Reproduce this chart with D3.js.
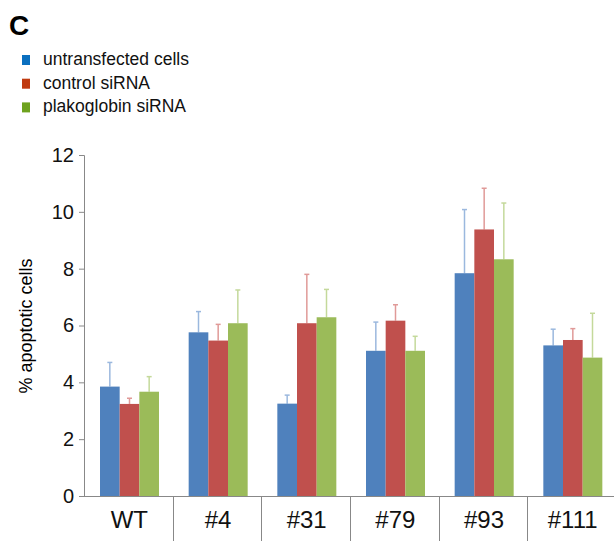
<!DOCTYPE html>
<html lang="en">
<head>
  <meta charset="UTF-8">
  <title>Apoptotic cells</title>
  <style>
  body {
    margin: 0;
    background: #fff;
    font-family: "Liberation Sans", Arial, Helvetica, sans-serif;
  }
  svg { display: block; }
  .tick text { font-size: 20px; fill: #111; }
  .cat { font-size: 24px; fill: #111; text-anchor: middle; }
  .legend text { font-size: 17.5px; fill: #111; }
  </style>
</head>
<body>
  <svg width="614" height="541"></svg>
  <script src="https://cdnjs.cloudflare.com/ajax/libs/d3/7.8.5/d3.min.js"></script>
  <script>
  // data (mean and upper error)
  var categories = ["WT", "#4", "#31", "#79", "#93", "#111"];
  var seriesNames = ["untransfected cells", "control siRNA", "plakoglobin siRNA"];
  var untransfected = [3.85, 5.76, 3.25, 5.11, 7.84, 5.30];
  var untransfectedErr = [0.85, 0.73, 0.30, 1.01, 2.24, 0.57];
  var controlSi = [3.24, 5.47, 6.08, 6.17, 9.38, 5.49];
  var controlSiErr = [0.20, 0.57, 1.72, 0.56, 1.45, 0.40];
  var plakoSi = [3.67, 6.08, 6.29, 5.11, 8.33, 4.87];
  var plakoSiErr = [0.53, 1.17, 0.98, 0.51, 1.98, 1.56];
  var yTicks = [0, 2, 4, 6, 8, 10, 12];

  var barColors = ["#4f81bd", "#c0504d", "#9bbb59"];
  var errColors = ["#9bb8de", "#e09a98", "#c4d99b"];
  var legendColors = ["#0a6fbf", "#c03a10", "#6ea21e"];

  var values = [untransfected, controlSi, plakoSi];
  var errors = [untransfectedErr, controlSiErr, plakoSiErr];

  var svg = d3.select("svg");

  var x = d3.scaleBand().domain(categories).range([84, 616]);
  var xs = d3.scaleBand().domain(seriesNames).range([16, 75]);
  var y = d3.scaleLinear().domain([0, 12]).range([496, 155]);

  // panel letter
  svg.append("text")
      .attr("x", 9).attr("y", 35)
      .style("font-size", "28px").style("font-weight", "bold")
      .text("C");

  // legend
  var legend = svg.append("g").attr("class", "legend")
    .selectAll("g")
    .data(seriesNames)
    .enter().append("g")
      .attr("transform", function(d, i) { return "translate(0," + (65 + i * 23.7) + ")"; });
  legend.append("rect")
      .attr("x", 22).attr("y", -10)
      .attr("width", 8).attr("height", 10)
      .attr("fill", function(d, i) { return legendColors[i]; });
  legend.append("text")
      .attr("x", 43).attr("y", 0)
      .text(function(d) { return d; });

  // y axis
  var yAxis = svg.append("g")
      .attr("transform", "translate(84,0)")
      .call(d3.axisLeft(y).tickValues(yTicks).tickSize(5).tickPadding(5));
  yAxis.selectAll("path, line").attr("stroke", "#888");
  yAxis.selectAll("text").attr("font-family", null);

  svg.append("text")
      .attr("transform", "translate(32,326) rotate(-90)")
      .attr("text-anchor", "middle")
      .style("font-size", "18px")
      .text("% apoptotic cells");

  // x axis line and group separators
  svg.append("line")
      .attr("x1", 84).attr("x2", 614)
      .attr("y1", 496.5).attr("y2", 496.5)
      .attr("stroke", "#888");
  svg.selectAll(".sep")
    .data(categories.slice(1).concat(["end"]))
    .enter().append("line")
      .attr("class", "sep")
      .attr("x1", function(d, i) { return Math.round(x(categories[0]) + x.step() * (i + 1)) + 0.5; })
      .attr("x2", function(d, i) { return Math.round(x(categories[0]) + x.step() * (i + 1)) + 0.5; })
      .attr("y1", 496).attr("y2", 541)
      .attr("stroke", "#888");

  svg.selectAll(".cat")
    .data(categories)
    .enter().append("text")
      .attr("class", "cat")
      .attr("x", function(d) { return x(d) + x.bandwidth() / 2 + 1; })
      .attr("y", 528)
      .text(function(d) { return d; });

  // bars + error bars
  var series = svg.selectAll(".series")
    .data(seriesNames)
    .enter().append("g")
      .attr("class", "series");

  series.each(function(name, si) {
    var g = d3.select(this);
    var rows = categories.map(function(c, ci) {
      return { cat: c, v: values[si][ci], e: errors[si][ci] };
    });
    var cx = function(d) { return x(d.cat) + xs(name) + xs.bandwidth() / 2; };

    g.selectAll("line.err")
      .data(rows)
      .enter().append("line")
        .attr("class", "err")
        .attr("x1", cx).attr("x2", cx)
        .attr("y1", function(d) { return y(d.v); })
        .attr("y2", function(d) { return y(d.v + d.e); })
        .attr("stroke", errColors[si])
        .attr("stroke-width", 1.5);
    g.selectAll("line.cap")
      .data(rows)
      .enter().append("line")
        .attr("class", "cap")
        .attr("x1", function(d) { return cx(d) - 2.5; })
        .attr("x2", function(d) { return cx(d) + 2.5; })
        .attr("y1", function(d) { return y(d.v + d.e); })
        .attr("y2", function(d) { return y(d.v + d.e); })
        .attr("stroke", errColors[si])
        .attr("stroke-width", 1.5);

    g.selectAll("rect")
      .data(rows)
      .enter().append("rect")
        .attr("x", function(d) { return x(d.cat) + xs(name); })
        .attr("width", xs.bandwidth())
        .attr("y", function(d) { return y(d.v); })
        .attr("height", function(d) { return y(0) - y(d.v); })
        .attr("fill", barColors[si]);
  });
  </script>
</body>
</html>
